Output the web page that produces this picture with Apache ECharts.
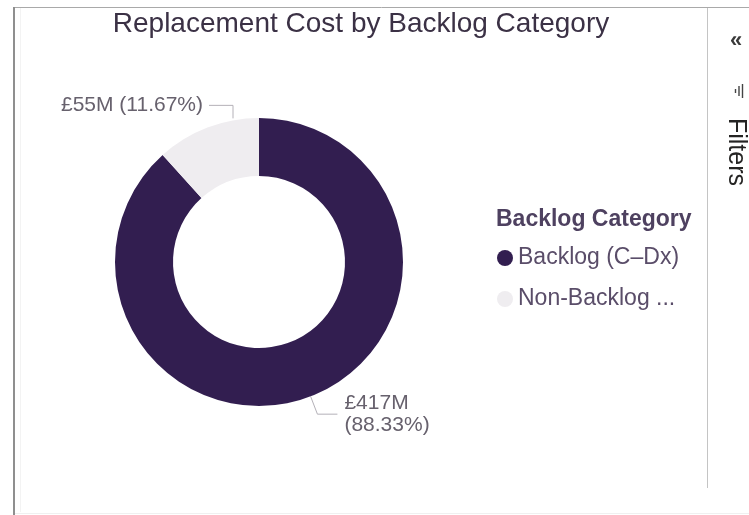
<!DOCTYPE html>
<html>
<head>
<meta charset="utf-8">
<title>Replacement Cost by Backlog Category</title>
<script src="https://cdn.jsdelivr.net/npm/echarts@6/dist/echarts.min.js"></script>
<style>
  html, body { margin: 0; padding: 0; background: #ffffff; }
  #chart { width: 749px; height: 515px; }
</style>
</head>
<body>
<div id="chart"></div>
<script>
// Replacement cost (£M) split by backlog category
const categories = ['Backlog (C–Dx)', 'Non-Backlog (A–B)'];
const costValues = [416.92, 55.08];
const sliceColors = ['#321e50', '#efedf0'];

const FONT = '"Liberation Sans", Arial, sans-serif';
const CX = 259, CY = 262, R_IN = 86, R_OUT = 144;

const chart = echarts.init(document.getElementById('chart'), null, { renderer: 'canvas' });

function shortName(name) {
  return name.length > 14 ? name.slice(0, 12).trimEnd() + ' ...' : name;
}

const option = {
  animation: false,
  backgroundColor: '#ffffff',
  textStyle: { fontFamily: FONT },
  legend: {
    orient: 'vertical',
    left: 492,
    top: 240,
    padding: 5,
    icon: 'circle',
    itemWidth: 16,
    itemHeight: 16,
    itemGap: 15,
    selectedMode: false,
    data: categories,
    formatter: shortName,
    textStyle: { fontFamily: FONT, fontSize: 23, lineHeight: 26, color: '#5a4d69' }
  },
  series: [{
    type: 'pie',
    center: [CX, CY],
    radius: [R_IN, R_OUT],
    startAngle: 90,
    clockwise: true,
    silent: true,
    avoidLabelOverlap: false,
    data: categories.map((name, i) => ({
      name: name,
      value: costValues[i],
      itemStyle: { color: sliceColors[i] }
    })),
    label: {
      show: true,
      position: 'outside',
      fontFamily: FONT,
      fontSize: 21,
      lineHeight: 22,
      color: '#67616d',
      distanceToLabelLine: 7,
      formatter: p => {
        const v = '£' + Math.round(p.value) + 'M';
        const pct = '(' + p.percent.toFixed(2) + '%)';
        return p.dataIndex === 0 ? v + '\n' + pct : v + ' ' + pct;
      }
    },
    labelLine: {
      show: true,
      length: 19,
      length2: 20,
      lineStyle: { color: '#b4b1b8', width: 1 }
    },
    labelLayout: p => {
      if (p.dataIndex !== 1) return {};
      // leader line rising from the upper arc, then running left to the label
      const dx = 26;
      const x0 = CX - dx;
      const y0 = CY - Math.sqrt(R_OUT * R_OUT - dx * dx) - 2;
      const yb = y0 - 13;
      const xe = x0 - 24;
      return {
        x: xe - 6,
        y: yb,
        align: 'right',
        verticalAlign: 'middle',
        labelLinePoints: [[x0, y0], [x0, yb], [xe, yb]]
      };
    }
  }],
  graphic: [
    // report canvas frame
    { type: 'line', shape: { x1: 14, y1: 7.5, x2: 749, y2: 7.5 }, style: { stroke: '#a9a9a9', lineWidth: 1 }, silent: true },
    { type: 'line', shape: { x1: 14, y1: 7, x2: 14, y2: 515 }, style: { stroke: '#8f8f8f', lineWidth: 2 }, silent: true },
    { type: 'line', shape: { x1: 20.5, y1: 8, x2: 20.5, y2: 512 }, style: { stroke: '#f3f3f3', lineWidth: 1 }, silent: true },
    { type: 'line', shape: { x1: 15, y1: 513.5, x2: 749, y2: 513.5 }, style: { stroke: '#f0f0f0', lineWidth: 1 }, silent: true },
    { type: 'line', shape: { x1: 707.5, y1: 8, x2: 707.5, y2: 488 }, style: { stroke: '#c4c4c4', lineWidth: 1 }, silent: true },
    // chart title
    {
      type: 'text', x: 361, y: 24, silent: true,
      style: { text: 'Replacement Cost by Backlog Category', fontFamily: FONT, fontSize: 28, fill: '#3b3145', align: 'center', verticalAlign: 'middle' }
    },
    // legend heading
    {
      type: 'text', x: 496, y: 220, silent: true,
      style: { text: 'Backlog Category', fontFamily: FONT, fontSize: 23, fontWeight: 'bold', fill: '#4e4160', align: 'left', verticalAlign: 'middle' }
    },
    // filters pane
    {
      type: 'text', x: 736, y: 41, silent: true,
      style: { text: '«', fontFamily: FONT, fontSize: 22, fontWeight: 'bold', fill: '#3a3a3a', align: 'center', verticalAlign: 'middle' }
    },
    { type: 'line', shape: { x1: 735.5, y1: 89, x2: 735.5, y2: 93 }, style: { stroke: '#444', lineWidth: 1.4 }, silent: true },
    { type: 'line', shape: { x1: 739, y1: 86, x2: 739, y2: 96 }, style: { stroke: '#444', lineWidth: 1.4 }, silent: true },
    { type: 'line', shape: { x1: 742.5, y1: 84, x2: 742.5, y2: 98 }, style: { stroke: '#444', lineWidth: 1.4 }, silent: true },
    {
      type: 'text', x: 736, y: 152, rotation: -Math.PI / 2, silent: true,
      style: { text: 'Filters', fontFamily: FONT, fontSize: 25, fill: '#252423', align: 'center', verticalAlign: 'middle' }
    }
  ]
};

chart.setOption(option);
</script>
</body>
</html>
